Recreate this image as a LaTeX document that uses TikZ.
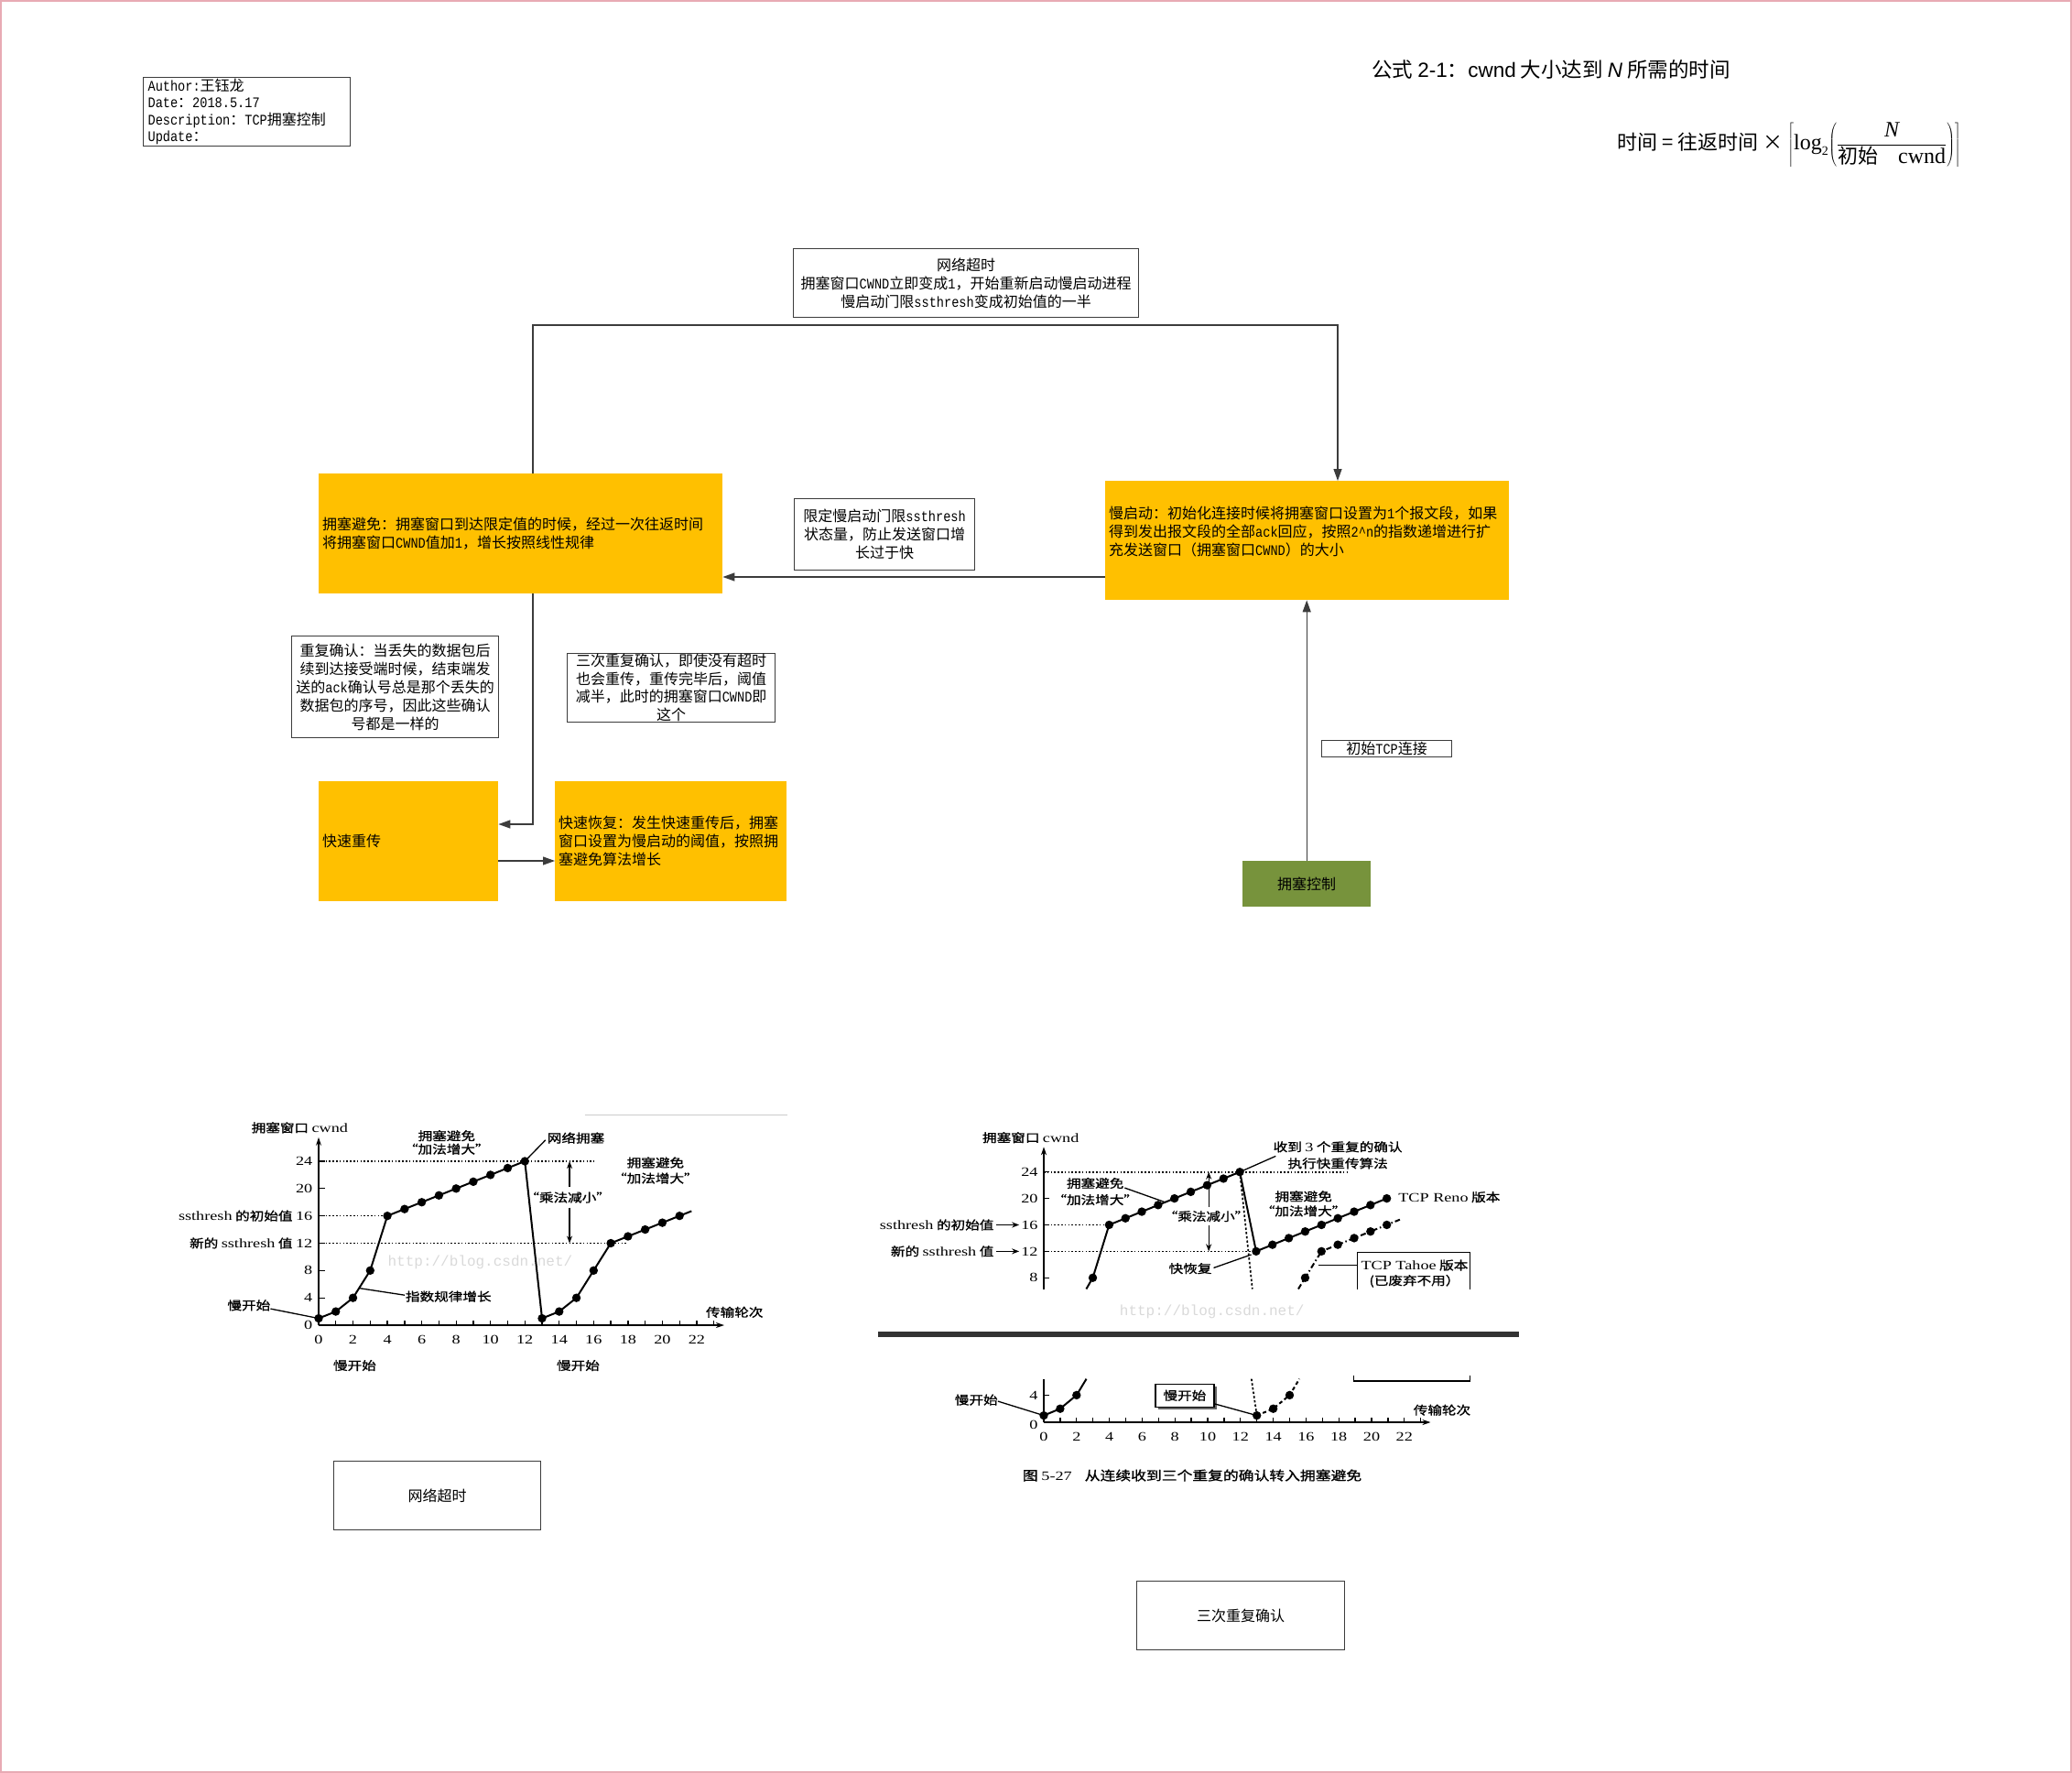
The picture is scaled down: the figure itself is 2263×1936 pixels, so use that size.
\documentclass[tikz,border=0pt]{standalone}
\usepackage[no-math]{fontspec}
\setmainfont{Noto Sans CJK SC}
\newfontfamily\cjk{Noto Sans CJK SC}
\newfontfamily\mono[FakeStretch=0.85]{Liberation Mono}
\newfontfamily\arial{Liberation Sans}
\newfontfamily\tim{Liberation Serif}
\newfontfamily\cjkb[FakeBold=1.2,FakeStretch=1.2]{Noto Sans CJK SC}
\newfontfamily\ser[FakeStretch=1.3]{Liberation Serif}
\newfontfamily\wm{Liberation Mono}
\newcommand\mt[1]{{\mono #1}}
\newcommand\sn[1]{{\ser\fontsize{14}{16}\selectfont #1}}
\usetikzlibrary{arrows.meta,shadows}
\definecolor{orangeC}{RGB}{255,192,0}
\definecolor{greenC}{RGB}{119,147,60}
\definecolor{lineC}{RGB}{60,60,60}
\definecolor{pinkC}{RGB}{232,170,180}
\tikzset{
 wbox/.style={draw=lineC, line width=1.2pt, fill=white, align=center, anchor=north west},
 obox/.style={fill=orangeC, anchor=north west, align=left, inner xsep=4pt},
 gbox/.style={fill=greenC, anchor=north west, align=center},
 arr/.style={draw=lineC, line width=1.3pt, -{Triangle[length=13pt,width=9pt]}},
 ax/.style={line width=1.5pt, -{Stealth[length=9pt,width=6pt]}},
 tk/.style={line width=1.3pt},
 sarr/.style={line width=1.3pt, -{Stealth[length=8pt,width=6pt]}},
 dotl/.style={line width=1.6pt, dash pattern=on 1.6pt off 2.2pt},
 crv/.style={line width=2pt},
 dotdrop/.style={line width=1.7pt, dash pattern=on 2.5pt off 2.2pt},
 lbl/.style={font=\cjkb\fontsize{13}{15}\selectfont, align=center},
 num/.style={font=\ser\fontsize{14}{16}\selectfont},
 dt/.style={radius=4.7pt},
}
\begin{document}
\begin{tikzpicture}[x=1pt,y=-1pt, every node/.style={inner sep=0pt, font=\fontsize{16}{20}\selectfont}]
\useasboundingbox (0,0) rectangle (2263,1936);
\draw[pinkC, line width=1.5pt] (1,1) rectangle (2262,1935);

% header
\node[wbox, minimum width=226pt, minimum height=75pt, align=left, text width=216pt, inner xsep=5pt, font=\fontsize{16}{18.5}\selectfont] (auth) at (156,84)
 {\mt{Author:}王钰龙\\\mt{Date}：\mt{2018.5.17}\\\mt{Description}：\mt{TCP}拥塞控制\\\mt{Update}：};
\node[font=\fontsize{22.5}{26}\selectfont] (title) at (1694,76) {公式 {\arial 2-1}：{\arial cwnd} 大小达到 {\arial\itshape N} 所需的时间};
\node[anchor=east, font=\fontsize{22}{26}\selectfont] (frm) at (2142,158)
 {时间 = 往返时间 × $\left\lceil\mbox{\tim\fontsize{24}{26}\selectfont log}_{\mbox{\tim\fontsize{14}{14}\selectfont 2}}\!\left(\displaystyle\frac{\mbox{\tim\itshape\fontsize{24}{26}\selectfont N}}{\mbox{\cjk 初始\quad\tim\fontsize{24}{26}\selectfont cwnd}}\right)\right\rceil$};

% flow boxes
\node[wbox, minimum width=377pt, minimum height=75pt] (nt) at (866,271)
 {网络超时\\拥塞窗口\mt{CWND}立即变成\mt{1}，开始重新启动慢启动进程\\慢启动门限\mt{ssthresh}变成初始值的一半};
\node[obox, minimum width=441pt, minimum height=131pt, text width=433pt] (ca) at (348,517)
 {拥塞避免：拥塞窗口到达限定值的时候，经过一次往返时间\\将拥塞窗口\mt{CWND}值加\mt{1}，增长按照线性规律};
\node[obox, minimum width=441pt, minimum height=130pt, text width=433pt] (ss) at (1207,525)
 {慢启动：初始化连接时候将拥塞窗口设置为\mt{1}个报文段，如果\\得到发出报文段的全部\mt{ack}回应，按照\mt{2\textasciicircum n}的指数递增进行扩\\充发送窗口（拥塞窗口\mt{CWND}）的大小\\\mbox{}};
\node[wbox, minimum width=197pt, minimum height=78pt] (lim) at (867,544)
 {限定慢启动门限\mt{ssthresh}\\状态量，防止发送窗口增\\长过于快};
\node[wbox, minimum width=226pt, minimum height=111pt] (dup) at (318,694)
 {重复确认：当丢失的数据包后\\续到达接受端时候，结束端发\\送的\mt{ack}确认号总是那个丢失的\\数据包的序号，因此这些确认\\号都是一样的};
\node[wbox, minimum width=227pt, minimum height=75pt] (tri) at (619,713) {};
\node[align=center, font=\fontsize{16}{19.5}\selectfont] (trit) at (tri.center)
 {三次重复确认，即使没有超时\\也会重传，重传完毕后，阈值\\减半，此时的拥塞窗口\mt{CWND}即\\这个};
\node[obox, minimum width=196pt, minimum height=131pt, text width=188pt] (fr) at (348,853) {快速重传};
\node[obox, minimum width=253pt, minimum height=131pt, text width=245pt] (frec) at (606,853)
 {快速恢复：发生快速重传后，拥塞\\窗口设置为慢启动的阈值，按照拥\\塞避免算法增长};
\node[gbox, minimum width=140pt, minimum height=50pt] (cc) at (1357,940) {拥塞控制};
\node[wbox, minimum width=142pt, minimum height=18pt] (tcp) at (1443,808) {初始\mt{TCP}连接};
\node[wbox, minimum width=226pt, minimum height=75pt] (b1) at (364,1595) {网络超时};
\node[wbox, minimum width=227pt, minimum height=75pt] (b2) at (1241,1726) {三次重复确认};

% connectors
\coordinate (c1) at (582,355);
\coordinate (c2) at (1461,355);
\draw[arr] (ca.north -| c1) -- (c1) -- (c2) -- (ss.north -| c2);
\coordinate (h1) at (1000,630);
\draw[arr] (ss.west |- h1) -- (ca.east |- h1);
\coordinate (c3) at (582,900);
\draw[arr] (ca.south -| c3) -- (c3) -- (fr.east |- c3);
\coordinate (h2) at (580,940);
\draw[arr] (fr.east |- h2) -- (frec.west |- h2);
\draw[arr] (cc.north) -- (ss.south -| cc.north);

% ---------- left chart ----------
\begin{scope}[shift={(348,1447)}, x=18.77pt, y=7.46pt]
\draw[gray!40, line width=1pt] (15.5,30.8) -- (27.3,30.8);
\node[font=\wm\fontsize{16}{18}\selectfont, text=gray!30] (wm1) at (9.4,9.2) {http://blog.csdn.net/};
\draw[ax] (0,0) -- (23.6,0);
\draw[ax] (0,0) -- (0,27.5);
\foreach \i in {1,...,23} \draw[tk] (\i,0) -- (\i,0.7);
\foreach \j in {4,8,...,24} \draw[tk] (0,\j) -- (0.35,\j);
\foreach \i in {0,2,...,22} \node[num] (ax\i) at (\i,-2.1) {\i};
\foreach \j in {0,4,8,20,24} \node[num, anchor=east] (ay\j) at (-0.35,\j) {\j};
\node[lbl, anchor=east] (ys16) at (-0.35,16) {\sn{ssthresh} 的初始值 \sn{16}};
\node[lbl, anchor=east] (ys12) at (-0.35,12) {新的 \sn{ssthresh} 值 \sn{12}};
\node[lbl] (yl) at (-1.1,28.9) {拥塞窗口 \sn{cwnd}};
\draw[dotl] (0,24) -- (16,24);
\draw[dotl] (0,16) -- (4,16);
\draw[dotl] (0,12) -- (18,12);
\draw[crv] (0,1) -- (1,2) -- (2,4) -- (3,8) -- (4,16) -- (12,24) -- (13,1) -- (14,2) -- (15,4) -- (16,8) -- (17,12) -- (21.7,16.7);
\foreach \x/\y in {0/1,1/2,2/4,3/8,4/16,5/17,6/18,7/19,8/20,9/21,10/22,11/23,12/24,13/1,14/2,15/4,16/8,17/12,18/13,19/14,20/15,21/16}
  \fill (\x,\y) circle[dt];
\node[lbl, font=\cjkb\fontsize{13}{14.5}\selectfont] (cav1) at (7.45,26.75) {拥塞避免\\“加法增大”};
\draw[tk] (12,24) -- (13.2,27.1);
\node[lbl, anchor=west] (ncg) at (13.3,27.4) {网络拥塞};
\node[lbl, font=\cjkb\fontsize{13}{17}\selectfont] (cav2) at (19.6,22.65) {拥塞避免\\“加法增大”};
\draw[sarr] (14.6,20.3) -- (14.6,24);
\draw[sarr] (14.6,17.2) -- (14.6,12);
\node[lbl] (mul1) at (14.5,18.7) {“乘法减小”};
\draw[tk] (2.4,5.4) -- (5.0,4.4);
\node[lbl, anchor=west] (expg) at (5.05,4.2) {指数规律增长};
\draw[tk] (-2.8,2.4) -- (0,1);
\node[lbl, anchor=east] (ssl1) at (-2.8,2.9) {慢开始};
\node[lbl] (trl1) at (24.2,1.9) {传输轮次};
\node[lbl] (sb1) at (2.1,-5.9) {慢开始};
\node[lbl] (sb2) at (15.1,-5.9) {慢开始};
\end{scope}

% ---------- right chart, upper part ----------
\begin{scope}[shift={(1140,1453)}, x=17.84pt, y=7.22pt]
\node[font=\wm\fontsize{16}{18}\selectfont, text=gray!30] (wm2) at (10.3,2.8) {http://blog.csdn.net/};
\draw[ax] (0,6.3) -- (0,27.8);
\foreach \j in {8,12,...,24} \draw[tk] (0,\j) -- (0.35,\j);
\foreach \j in {8,12,16,20,24} \node[num, anchor=east] (by\j) at (-0.35,\j) {\j};
\node[lbl, anchor=east] (bs16) at (-3.05,16) {\sn{ssthresh} 的初始值};
\node[lbl, anchor=east] (bs12) at (-3.05,12) {新的 \sn{ssthresh} 值};
\draw[sarr, shorten <=2pt, shorten >=2pt] (bs16.east) -- (by16.west);
\draw[sarr, shorten <=2pt, shorten >=2pt] (bs12.east) -- (by12.west);
\node[lbl] (byl) at (-0.8,29.2) {拥塞窗口 \sn{cwnd}};
\draw[dotl] (0,24) -- (18.7,24);
\draw[dotl] (0,16) -- (4,16);
\draw[dotl] (0,12) -- (13,12);
\draw[crv] (2.6,6.3) -- (3,8) -- (4,16) -- (12,24) -- (13,12) -- (21,20);
\draw[dotdrop] (12,24) -- (12.77,6.3);
\draw[crv, dash pattern=on 6pt off 3pt on 1.5pt off 3pt] (15.58,6.3) -- (16,8) -- (17,12) -- (21.8,16.8);
\foreach \x/\y in {3/8,4/16,5/17,6/18,7/19,8/20,9/21,10/22,11/23,12/24,13/12,14/13,15/14,16/15,17/16,18/17,19/18,20/19,21/20,16/8,17/12,18/13,19/14,20/15,21/16}
  \fill (\x,\y) circle[dt];
\draw[tk] (12,24) -- (14.2,26.4);
\node[lbl, font=\cjkb\fontsize{13}{18}\selectfont] (rx3) at (18.0,26.55) {收到 \sn{3} 个重复的确认\\执行快重传算法};
\node[lbl, font=\cjkb\fontsize{13}{18}\selectfont] (cav3) at (3.15,21.05) {拥塞避免\\“加法增大”};
\draw[tk] (4.95,21.6) -- (7.4,19.45);
\node[lbl, font=\cjkb\fontsize{13}{16}\selectfont] (cav4) at (15.9,19.2) {拥塞避免\\“加法增大”};
\draw[sarr] (10.1,18.7) -- (10.1,24);
\draw[sarr] (10.1,15.9) -- (10.1,12);
\node[lbl] (mul2) at (9.95,17.3) {“乘法减小”};
\node[lbl] (frl) at (8.97,9.4) {快恢复};
\draw[tk] (10.4,9.5) -- (12.7,11.5);
\node[lbl, anchor=west] (reno) at (21.7,20.2) {\sn{TCP Reno} 版本};
\draw[tk] (19.2,6.3) -- (19.2,11.8) -- (26.1,11.8) -- (26.1,6.3);
\draw[tk] (16.8,9.9) -- (19.2,9.9);
\node[lbl] (tah1) at (22.7,9.9) {\sn{TCP Tahoe} 版本};
\node[lbl] (tah2) at (22.7,7.5) {(已废弃不用）};
\end{scope}

\draw[line width=6pt, black!80] (959,1457) -- (1659,1457);

% ---------- right chart, lower part ----------
\begin{scope}[shift={(1140,1553)}, x=17.9pt, y=7.4pt]
\draw[tk] (0,0) -- (0,6.4);
\draw[ax] (0,0) -- (23.6,0);
\foreach \i in {1,...,23} \draw[tk] (\i,0) -- (\i,0.7);
\draw[tk] (0,4) -- (0.35,4);
\node[num, anchor=east] (cy4) at (-0.35,4) {4};
\node[num, anchor=east] (cy0) at (-0.35,-0.4) {0};
\foreach \i in {0,2,...,22} \node[num] (cx\i) at (\i,-2.2) {\i};
\node[lbl] (trl2) at (24.3,1.8) {传输轮次};
\draw[crv] (0,1) -- (1,2) -- (2,4) -- (2.6,6.4);
\draw[dotdrop] (12.67,6.4) -- (13,1);
\draw[crv, dash pattern=on 4pt off 3pt] (13,1) -- (14,2) -- (15,4) -- (15.6,6.4);
\foreach \x/\y in {0/1,1/2,2/4,13/1,14/2,15/4} \fill (\x,\y) circle[dt];
\node[lbl, anchor=east] (ssl2) at (-2.8,3.3) {慢开始};
\draw[tk] (-2.8,3.1) -- (0,1);
\node[lbl, draw, line width=1.2pt, fill=white, minimum width=64pt, minimum height=25pt,
  drop shadow={shadow xshift=3pt, shadow yshift=-3pt, fill=black!60, opacity=1}] (ssb) at (8.6,3.95) {慢开始};
\draw[tk] ([yshift=4pt]ssb.south east) -- (12.85,1.1);
\draw[tk] (18.9,6.9) -- (18.9,6.1) -- (26,6.1) -- (26,6.9);
\end{scope}
\node[font=\cjkb\fontsize{14}{16}\selectfont] (cap) at (1302,1611) {图 \sn{5-27}\quad 从连续收到三个重复的确认转入拥塞避免};
\end{tikzpicture}
\end{document}
